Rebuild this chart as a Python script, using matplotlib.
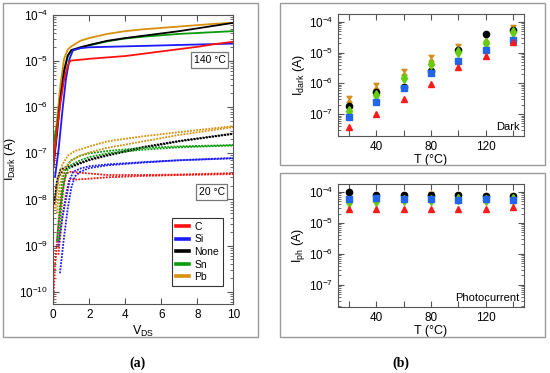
import numpy as np
import matplotlib
matplotlib.use('Agg')
import matplotlib.pyplot as plt
from matplotlib.patches import Rectangle
from matplotlib.path import Path
from matplotlib.ticker import LogLocator, NullFormatter

plt.rcParams['font.family'] = ['Liberation Sans', 'DejaVu Sans']
plt.rcParams['font.size'] = 8

materials = ['C', 'Si', 'None', 'Sn', 'Pb']
line_colors = ['#ff1010', '#1a1aff', '#000000', '#0a9a0a', '#d8900c']

# (a) I-V curves, values as log10(I)
# 140 degC (solid)
v_hot = {
    'C':    [0, 0.2, 0.4, 0.6, 0.8, 0.95, 1.5, 2, 3, 4, 5, 6, 7, 8, 9, 10],
    'Si':   [0.1, 0.3, 0.5, 0.7, 0.9, 1.1, 1.5, 2, 3, 5, 7, 10],
    'None': [0, 0.2, 0.4, 0.6, 0.8, 1.0, 1.5, 2, 3, 4, 5, 6, 7, 8, 9, 10],
    'Sn':   [0, 0.2, 0.4, 0.6, 0.8, 1.0, 1.5, 2, 3, 4, 5, 6, 7, 8, 9, 10],
    'Pb':   [0, 0.2, 0.4, 0.6, 0.8, 1.0, 1.5, 2, 3, 4, 5, 6, 7, 8, 9, 10],
}
logi_hot = {
    'C':    [-7.3, -6.5, -5.9, -5.4, -5.1, -4.99, -4.97, -4.95, -4.92, -4.89, -4.84, -4.79, -4.74, -4.69, -4.63, -4.58],
    'Si':   [-7.5, -6.9, -6.1, -5.4, -4.95, -4.76, -4.72, -4.70, -4.69, -4.67, -4.65, -4.62],
    'None': [-7.3, -6.6, -5.8, -5.2, -4.88, -4.76, -4.70, -4.65, -4.56, -4.50, -4.45, -4.40, -4.35, -4.29, -4.23, -4.17],
    'Sn':   [-6.8, -6.4, -5.8, -5.25, -4.9, -4.78, -4.72, -4.66, -4.57, -4.51, -4.47, -4.44, -4.41, -4.39, -4.37, -4.35],
    'Pb':   [-7.0, -6.3, -5.5, -4.95, -4.75, -4.68, -4.56, -4.50, -4.41, -4.35, -4.31, -4.28, -4.25, -4.22, -4.19, -4.17],
}
# 20 degC (dotted), two sweeps each
v_cold = {
    'C':    [[0, 0.1, 0.3, 0.5, 0.7, 0.9, 1.5, 3, 5, 7, 10],
             [0.28, 0.5, 0.7, 0.9, 1.2, 2, 3, 5, 7, 10]],
    'Si':   [[0.28, 0.5, 0.7, 0.9, 1.1, 1.5, 2, 3, 5, 7, 10],
             [0.37, 0.6, 0.8, 1.0, 1.2, 1.5, 2, 3, 5, 7, 10]],
    'None': [[0.05, 0.2, 0.4, 0.7, 1, 1.5, 2, 3, 5, 7, 10],
             [0.1, 0.3, 0.6, 1, 1.5, 2, 3, 5, 7, 10]],
    'Sn':   [[0.2, 0.35, 0.5, 0.7, 1, 1.5, 2, 3, 5, 7, 10],
             [0.3, 0.45, 0.6, 0.8, 1, 1.5, 2, 3, 5, 7, 10]],
    'Pb':   [[0.1, 0.25, 0.5, 0.8, 1.2, 2, 3, 5, 7, 10],
             [0.2, 0.35, 0.6, 1, 1.5, 2, 3, 5, 7, 10]],
}
logi_cold = {
    'C':    [[-10.2, -9.4, -8.5, -7.85, -7.45, -7.40, -7.42, -7.47, -7.47, -7.46, -7.43],
             [-9.2, -8.4, -7.9, -7.55, -7.57, -7.55, -7.52, -7.49, -7.47, -7.45]],
    'Si':   [[-9.0, -8.4, -8.0, -7.6, -7.4, -7.33, -7.28, -7.24, -7.19, -7.15, -7.10],
             [-9.6, -8.8, -8.2, -7.75, -7.5, -7.4, -7.32, -7.26, -7.2, -7.15, -7.11]],
    'None': [[-8.1, -7.6, -7.35, -7.3, -7.27, -7.2, -7.13, -7.03, -6.86, -6.73, -6.57],
             [-8.0, -7.5, -7.35, -7.3, -7.22, -7.15, -7.05, -6.88, -6.74, -6.58]],
    'Sn':   [[-8.9, -8.2, -7.6, -7.3, -7.15, -7.05, -7.0, -6.95, -6.88, -6.85, -6.82],
             [-8.9, -8.2, -7.6, -7.35, -7.25, -7.15, -7.08, -7.0, -6.92, -6.87, -6.83]],
    'Pb':   [[-8.2, -7.6, -7.25, -7.05, -6.95, -6.85, -6.74, -6.63, -6.54, -6.41],
             [-8.3, -7.7, -7.35, -7.15, -7.05, -6.98, -6.88, -6.74, -6.60, -6.43]],
}

# (b) temperature series
temps = [20, 40, 60, 80, 100, 120, 140]
dark = {
    'C':    [3.7e-8, 9.8e-8, 3.0e-7, 9.3e-7, 3.3e-6, 8.0e-6, 2.2e-5],
    'Si':   [7.8e-8, 2.4e-7, 6.9e-7, 2.2e-6, 5.5e-6, 1.2e-5, 2.5e-5],
    'None': [1.9e-7, 5.2e-7, 7.8e-7, 2.6e-6, 1.2e-5, 3.9e-5, 5.5e-5],
    'Sn':   [1.25e-7, 4.2e-7, 1.5e-6, 4.3e-6, 1.07e-5, 2.0e-5, 4.6e-5],
    'Pb':   [3.0e-7, 8.1e-7, 2.4e-6, 6.6e-6, 1.5e-5, 3.1e-5, 6.2e-5],
}
photo = {
    'C':    [2.9e-5, 2.7e-5, 2.9e-5, 2.8e-5, 2.7e-5, 2.7e-5, 3.3e-5],
    'Si':   [6.1e-5, 6.4e-5, 6.0e-5, 6.0e-5, 5.4e-5, 6.0e-5, 5.6e-5],
    'None': [9.6e-5, 8.2e-5, 8.0e-5, 8.0e-5, 8.2e-5, 7.4e-5, 7.4e-5],
    'Sn':   [4.8e-5, 5.0e-5, 5.4e-5, 5.5e-5, 6.0e-5, 5.5e-5, 6.0e-5],
    'Pb':   [6.0e-5, 6.5e-5, 7.4e-5, 7.8e-5, 7.5e-5, 7.0e-5, 7.0e-5],
}

# hourglass marker for Pb
bowtie = Path([(-0.8, 1), (0.8, 1), (0, 0), (0.8, -1), (-0.8, -1), (0, 0), (-0.8, 1)],
              [Path.MOVETO, Path.LINETO, Path.LINETO, Path.LINETO, Path.LINETO,
               Path.LINETO, Path.CLOSEPOLY])
marker_style = {
    'C':    dict(marker='^', color='#ff1a1a', ms=5),
    'Si':   dict(marker='s', color='#2266ee', ms=4.5),
    'None': dict(marker='o', color='#000000', ms=4.5),
    'Sn':   dict(marker='d', color='#66cc11', ms=5),
    'Pb':   dict(marker=bowtie, color='#d4901c', ms=4.5),
}
# draw order in (b)
order_b = ['Pb', 'None', 'Sn', 'Si', 'C']

spine_col = '#555555'


def style_axes(ax):
    for s in ax.spines.values():
        s.set_color(spine_col)
        s.set_linewidth(0.8)
    ax.tick_params(which='both', direction='in', top=True, right=True,
                   color=spine_col, labelsize=8.5)
    ax.tick_params(which='major', length=4)
    ax.tick_params(which='minor', length=2)
    ax.yaxis.set_minor_locator(LogLocator(base=10, subs=np.arange(2, 10), numticks=20))
    ax.yaxis.set_minor_formatter(NullFormatter())


fig = plt.figure(figsize=(5.5, 3.73), dpi=100)
W, H = 550.0, 373.0

# outer frames
for (x0, y0, x1, y1) in [(3, 3, 258, 337), (280, 3, 545, 165), (280, 173, 545, 337)]:
    fig.patches.append(Rectangle((x0 / W, 1 - y1 / H), (x1 - x0) / W, (y1 - y0) / H,
                                 transform=fig.transFigure, fill=False,
                                 edgecolor='#9a9a9a', lw=1.0))

# ---- (a)
axa = fig.add_axes([53.3 / W, 1 - 304 / H, 180 / W, 289 / H])
for m, c in zip(materials, line_colors):
    for vv, ll in zip(v_cold[m], logi_cold[m]):
        axa.plot(vv, 10.0 ** np.array(ll), color=c, lw=1.3, ls=(0, (1, 0.7)))
for m in ['Pb', 'Sn', 'None', 'Si', 'C']:
    c = line_colors[materials.index(m)]
    axa.plot(v_hot[m], 10.0 ** np.array(logi_hot[m]), color=c, lw=1.3)
axa.set_yscale('log')
axa.set_xlim(0, 10)
axa.set_ylim(5.4e-11, 1e-4)
axa.set_xticks([0, 2, 4, 6, 8, 10])
style_axes(axa)
axa.set_xlabel('V$_{\\mathregular{DS}}$', fontsize=9, labelpad=2)
axa.set_ylabel('I$_{\\mathregular{Dark}}$ (A)', fontsize=9, labelpad=1)

handles = [plt.Line2D([], [], color=c, lw=2.6) for c in line_colors]
leg = axa.legend(handles, materials, loc='lower right', bbox_to_anchor=(0.97, 0.045),
                 fontsize=7.5, handlelength=1.3, handletextpad=0.5, labelspacing=0.25,
                 borderpad=0.35, fancybox=False, framealpha=1, edgecolor='#333333')
leg.get_frame().set_linewidth(0.8)

box = dict(boxstyle='square,pad=0.25', facecolor='white', edgecolor='#777777', lw=0.9)
axa.text(0.87, 0.844, '140 \u00b0C', transform=axa.transAxes, ha='center', va='center',
         fontsize=7.5, bbox=box)
axa.text(0.88, 0.3875, '20 \u00b0C', transform=axa.transAxes, ha='center', va='center',
         fontsize=7.5, bbox=box)

# ---- (b) top: dark, bottom: photocurrent
axb1 = fig.add_axes([338 / W, 1 - 136 / H, 186 / W, 122 / H])
axb2 = fig.add_axes([338 / W, 1 - 306.7 / H, 186 / W, 122.7 / H])
for ax, data, ylab, tag in [(axb1, dark, 'I$_{\\mathregular{dark}}$ (A)', 'Dark'),
                            (axb2, photo, 'I$_{\\mathregular{ph}}$ (A)', 'Photocurrent')]:
    for m in order_b:
        st = marker_style[m]
        ax.plot(temps, data[m], ls='none', marker=st['marker'], ms=st['ms'],
                color=st['color'], mec=st['color'])
    ax.set_yscale('log')
    ax.set_xlim(12, 148)
    ax.set_ylim(1.95e-8, 1.8e-4)
    ax.set_xticks(temps)
    ax.set_xticklabels(['', '40', '', '80', '', '120', ''])
    style_axes(ax)
    ax.set_xlabel('T (\u00b0C)', fontsize=9, labelpad=1)
    ax.set_ylabel(ylab, fontsize=9, labelpad=1)
    ax.text(0.975, 0.03, tag, transform=ax.transAxes, ha='right', va='bottom', fontsize=8)

fig.text(138 / W, 1 - 363 / H, '(a)', ha='center', va='center', fontsize=10,
         family=['Liberation Serif', 'DejaVu Serif'], fontweight='bold')
fig.text(401 / W, 1 - 363 / H, '(b)', ha='center', va='center', fontsize=10,
         family=['Liberation Serif', 'DejaVu Serif'], fontweight='bold')

fig.savefig('out.png', dpi=100)
